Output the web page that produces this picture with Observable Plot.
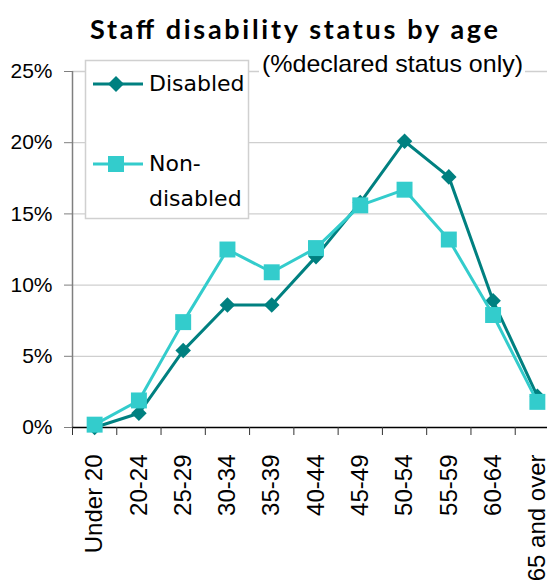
<!DOCTYPE html>
<html><head><meta charset="utf-8">
<script src="https://cdn.jsdelivr.net/npm/d3@7"></script>
<script src="https://cdn.jsdelivr.net/npm/@observablehq/plot@0.6"></script>
<style>
body{margin:0;background:#fff}
#wrap{position:relative;width:547px;height:582px;overflow:hidden;background:#fff}
#wrap svg{max-width:none !important}
#wrap svg.ov{position:absolute;left:0;top:0;pointer-events:none}
</style>
</head><body><div id="wrap"></div>
<script>
const ageGroups = ["Under 20","20-24","25-29","30-34","35-39","40-44","45-49","50-54","55-59","60-64","65 and over"];
const disabled = [0.0, 1.0, 5.4, 8.6, 8.6, 12.0, 15.8, 20.1, 17.6, 8.9, 2.2];
const nonDisabled = [0.2, 1.9, 7.4, 12.5, 10.9, 12.6, 15.6, 16.7, 13.2, 7.9, 1.8];
const yTicks = [0, 5, 10, 15, 20, 25];
const seriesNames = ["Disabled", "Non-disabled"];
const seriesColors = ["#008080", "#33CCCC"];
const titleText = "Staff disability status by age";
const subtitleText = "(%declared status only)";

const n = ageGroups.length;
const dis = ageGroups.map((g, i) => ({i, group: g, value: disabled[i]}));
const non = ageGroups.map((g, i) => ({i, group: g, value: nonDisabled[i]}));
const boundaries = d3.range(n + 1).map(i => i - 0.5);

const plot = Plot.plot({
  width: 559, height: 582,
  marginLeft: 72, marginRight: 0, marginTop: 71, marginBottom: 155,
  style: {fontFamily: "'Liberation Sans', Arial, sans-serif", background: "white", color: "#000", overflow: "visible", maxWidth: "none"},
  x: {type: "linear", domain: [-0.5, n - 0.5], label: null},
  y: {domain: [0, 25], label: null},
  marks: [
    Plot.ruleY(yTicks.filter(d => d > 0), {stroke: "#cfcfcf", strokeWidth: 1.3}),
    Plot.ruleX([-0.5], {stroke: "#7f7f7f", strokeWidth: 1.5}),
    Plot.axisY({ticks: yTicks, tickFormat: d => d + "%", tickSize: 8, tickPadding: 12, fontSize: 21, stroke: "#7f7f7f", label: null}),
    Plot.ruleY([0], {stroke: "#000", strokeWidth: 1.5}),
    Plot.axisX({ticks: boundaries, tickSize: 8, tickFormat: () => "", stroke: "#333", label: null}),
    Plot.axisX({ticks: d3.range(n), tickSize: 0, tickRotate: -90, tickPadding: 27, tickFormat: i => ageGroups[i], fontSize: 24, label: null}),
    Plot.line(dis, {x: "i", y: "value", stroke: seriesColors[0], strokeWidth: 3}),
    Plot.dot(dis, {x: "i", y: "value", symbol: "diamond2", r: 7, fill: seriesColors[0], stroke: "none"}),
    Plot.line(non, {x: "i", y: "value", stroke: seriesColors[1], strokeWidth: 3}),
    Plot.dot(non, {x: "i", y: "value", symbol: "square", r: 9, fill: seriesColors[1], stroke: "none"})
  ]
});
plot.style.maxWidth = "none";
const wrap = document.getElementById("wrap");
wrap.appendChild(plot);

// overlay: title, subtitle, legend
const ov = d3.select(wrap).append("svg").attr("class", "ov").attr("width", 547).attr("height", 582);
ov.append("text").attr("x", 90).attr("y", 39).attr("textLength", 408).attr("lengthAdjust", "spacing")
  .style("font-family", "Lato, 'DejaVu Sans', sans-serif").style("font-weight", "bold").style("font-size", "27px")
  .text(titleText);
ov.append("rect").attr("x", 259).attr("y", 50).attr("width", 266).attr("height", 28).attr("fill", "#fff");
ov.append("text").attr("x", 262).attr("y", 72).attr("textLength", 261).attr("lengthAdjust", "spacingAndGlyphs")
  .style("font-family", "'Liberation Sans', Arial, sans-serif").style("font-size", "24px")
  .text(subtitleText);

const lg = ov.append("g");
lg.append("rect").attr("x", 85.5).attr("y", 60.5).attr("width", 163).attr("height", 158)
  .attr("fill", "#fff").attr("stroke", "#d0d0d0").attr("stroke-width", 1.5);
const legendFont = "'DejaVu Sans', sans-serif";
const ey = [84, 164];
seriesNames.forEach((name, k) => {
  const y = ey[k];
  lg.append("line").attr("x1", 93).attr("x2", 143).attr("y1", y).attr("y2", y)
    .attr("stroke", seriesColors[k]).attr("stroke-width", 3);
  if (k === 0) {
    lg.append("path").attr("d", `M116,${y-8}L124,${y}L116,${y+8}L108,${y}Z`).attr("fill", seriesColors[k]);
  } else {
    lg.append("rect").attr("x", 108).attr("y", y - 8).attr("width", 16).attr("height", 16).attr("fill", seriesColors[k]);
  }
  const lines = name.includes("-") ? [name.slice(0, name.indexOf("-") + 1), name.slice(name.indexOf("-") + 1)] : [name];
  lines.forEach((t, j) => {
    lg.append("text").attr("x", 149).attr("y", y + 7 + j * 35)
      .style("font-family", legendFont).style("font-size", "22px").text(t);
  });
});
</script>
</body></html>
